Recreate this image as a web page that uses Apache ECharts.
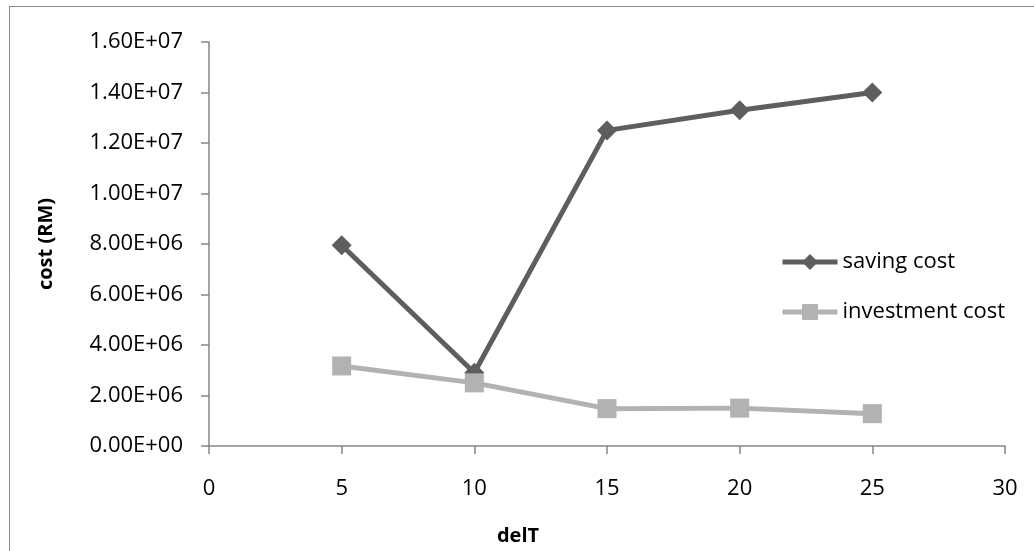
<!DOCTYPE html>
<html>
<head>
<meta charset="utf-8">
<script src="https://cdn.jsdelivr.net/npm/echarts@6/dist/echarts.min.js"></script>
<style>
html,body{margin:0;padding:0;background:#fff;overflow:hidden;}
#chart{width:1034px;height:551px;}
</style>
</head>
<body>
<div id="chart"></div>
<script>
const xValues = [5, 10, 15, 20, 25];
const savingCost = [7.95e6, 2.9e6, 1.25e7, 1.33e7, 1.40e7];
const investmentCost = [3.17e6, 2.5e6, 1.48e6, 1.5e6, 1.28e6];
const seriesNames = ['saving cost', 'investment cost'];
const xTitle = 'delT';
const yTitle = 'cost (RM)';

function sci(v) {
  if (v === 0) return '0.00E+00';
  const e = Math.floor(Math.log10(Math.abs(v)));
  const m = v / Math.pow(10, e);
  const es = (e < 0 ? '-' : '+') + String(Math.abs(e)).padStart(2, '0');
  return m.toFixed(2) + 'E' + es;
}

const font = "'Open Sans', sans-serif";
const chart = echarts.init(document.getElementById('chart'), null, {renderer: 'canvas', width: 1034, height: 551});
chart.setOption({
  animation: false,
  backgroundColor: '#ffffff',
  grid: {left: 209, right: 29, top: 42, bottom: 101, containLabel: false},
  graphic: [
    {type: 'line', shape: {x1: 9.5, y1: 6, x2: 9.5, y2: 551}, style: {stroke: '#8c8c8c', lineWidth: 1}},
    {type: 'line', shape: {x1: 9, y1: 6.5, x2: 1034, y2: 6.5}, style: {stroke: '#8c8c8c', lineWidth: 1}}
  ],
  legend: {
    left: 775, top: 246, orient: 'vertical',
    itemWidth: 55, itemHeight: 20, itemGap: 28,
    lineStyle: {width: 5},
    textStyle: {fontFamily: font, fontSize: 22, color: '#000', padding: [0, 0, 0, 0]},
    data: seriesNames
  },
  xAxis: {
    type: 'value', min: 0, max: 30, interval: 5,
    name: xTitle, nameLocation: 'middle', nameGap: 80,
    nameTextStyle: {fontFamily: font, fontSize: 20, fontWeight: 'bold', color: '#000', padding: [0, 178, 0, 0]},
    axisLine: {show: true, onZero: false, lineStyle: {color: '#868686', width: 1.5}},
    axisTick: {show: true, length: 8, inside: false, lineStyle: {color: '#868686', width: 1.5}},
    axisLabel: {fontFamily: font, fontSize: 22, color: '#000', margin: 32},
    splitLine: {show: false}
  },
  yAxis: {
    type: 'value', min: 0, max: 1.6e7, interval: 2e6,
    name: yTitle, nameLocation: 'middle', nameGap: 153, nameRotate: 90,
    nameTextStyle: {fontFamily: font, fontSize: 20, fontWeight: 'bold', color: '#000'},
    axisLine: {show: true, lineStyle: {color: '#868686', width: 1.5}},
    axisTick: {show: true, length: 8, inside: false, lineStyle: {color: '#868686', width: 1.5}},
    axisLabel: {fontFamily: font, fontSize: 22, color: '#000', margin: 26, formatter: sci},
    splitLine: {show: false}
  },
  series: [
    {
      name: seriesNames[0], type: 'line',
      data: xValues.map((x, i) => [x, savingCost[i]]),
      symbol: 'diamond', symbolSize: 20, showAllSymbol: true,
      lineStyle: {color: '#5e5e5e', width: 5},
      itemStyle: {color: '#5e5e5e'},
      z: 3
    },
    {
      name: seriesNames[1], type: 'line',
      data: xValues.map((x, i) => [x, investmentCost[i]]),
      symbol: 'rect', symbolSize: 19, showAllSymbol: true,
      lineStyle: {color: '#b2b2b2', width: 5},
      itemStyle: {color: '#b2b2b2'},
      z: 4
    }
  ]
});
</script>
</body>
</html>
